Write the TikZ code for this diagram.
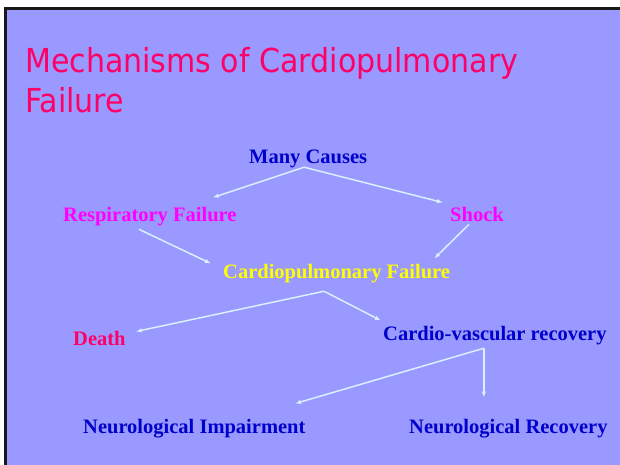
\documentclass[tikz,border=0pt]{standalone}
\usepackage{fontspec}
\setmainfont{Liberation Serif}
\newfontfamily\titlefont{DejaVu Sans}
\usetikzlibrary{arrows.meta,calc}
\definecolor{slidebg}{HTML}{9999FF}
\definecolor{titlered}{HTML}{FF0066}
\definecolor{darkblue}{HTML}{0000CC}
\definecolor{magentatxt}{HTML}{FF00FF}
\definecolor{yellowtxt}{HTML}{FFFF00}
\definecolor{arrowcol}{HTML}{D8F0FF}
\tikzset{
  lbl/.style={anchor=base west, inner sep=0pt, font=\fontsize{20.5}{24}\selectfont\bfseries},
  ttl/.style={anchor=base west, inner sep=0pt, text=titlered, font=\titlefont\fontsize{33}{40}\selectfont},
  arr/.style={draw=arrowcol, line width=1.5pt, -{Latex[length=6pt,width=4.5pt]}},
}
\begin{document}
\begin{tikzpicture}[x=1pt,y=-1pt]
\useasboundingbox (0,0) rectangle (620,465);
\fill[white] (0,0) rectangle (620,465);
\fill[black!90] (4,7) rectangle (620,465);
\fill[slidebg] (7,10) rectangle (620,465);
% title
\node[ttl] (t1) at (25,73) {\scalebox{0.91}[1]{Mechanisms of Cardiopulmonary}};
\node[ttl] (t2) at (25,113) {\scalebox{0.91}[1]{Failure}};
% labels
\node[lbl, text=darkblue] (mc) at (249,164) {Many Causes};
\node[lbl, text=magentatxt] (rf) at (63,221) {Respiratory Failure};
\node[lbl, text=magentatxt] (sh) at (450,221) {Shock};
\node[lbl, text=yellowtxt] (cf) at (223,278) {Cardiopulmonary Failure};
\node[lbl, text=titlered] (de) at (73,345) {Death};
\node[lbl, text=darkblue] (cv) at (383,340) {Cardio-vascular recovery};
\node[lbl, text=darkblue] (ni) at (83,433) {Neurological Impairment};
\node[lbl, text=darkblue] (nr) at (409,433) {Neurological Recovery};
% apex points
\coordinate (mcA) at ([shift={(-4,-1.4)}]mc.south);
\coordinate (cfA) at ([shift={(-12.6,8.6)}]cf.south);
\coordinate (cvA) at ([shift={(-11,3.6)}]cv.south);
\coordinate (nrT) at ([shift={(0,-21)}]nr.north);
% arrows
\draw[arr] (mcA) -- ([shift={(-24,-9)}]rf.north east);
\draw[arr] (mcA) -- ([shift={(-7,-4)}]sh.north west);
\draw[arr] ([shift={(-11,3.6)}]rf.south) -- ([shift={(-12,0)}]cf.north west);
\draw[arr] ([shift={(-8,3)}]sh.south) -- ([shift={(-16,-5)}]cf.north east);
\draw[arr] (cfA) -- ([shift={(10,1)}]de.north east);
\draw[arr] (cfA) -- ([shift={(-2,-5)}]cv.north west);
\draw[arr] (cvA) -- ([shift={(-10.6,-15)}]ni.north east);
\draw[arr] (cvA) -- (cvA |- nrT);
\end{tikzpicture}
\end{document}
